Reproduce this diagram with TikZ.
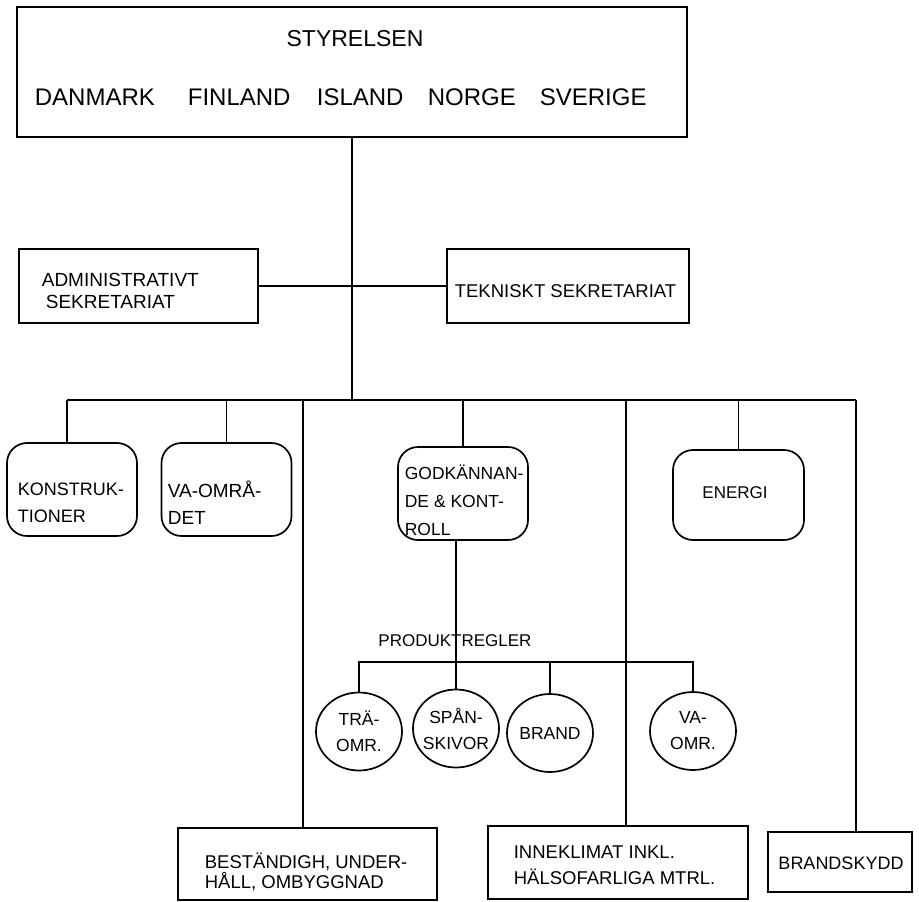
\documentclass[tikz,border=0pt]{standalone}
\usepackage{fontspec}
\setmainfont{Liberation Sans}
\usetikzlibrary{shapes.geometric}
\newcommand{\fsz}[2]{\fontsize{#1}{#2}\selectfont}
\begin{document}
\begin{tikzpicture}[x=1pt,y=-1pt,line width=1.7pt,
  sqbox/.style={draw,rectangle,inner sep=0pt},
  rndbox/.style={draw,rectangle,rounded corners=20pt,inner sep=0pt,minimum width=130pt,minimum height=93pt},
  oval/.style={draw,ellipse,inner sep=-9pt,minimum width=86pt,minimum height=78pt,align=center,font=\fsz{17.5}{26}},
  lbl/.style={inner sep=0pt,align=left,anchor=west},
]
\useasboundingbox (0,0) rectangle (919,902);

% board
\node[sqbox,minimum width=670pt,minimum height=130pt] (top) at (352,72) {};
\node[inner sep=0pt,font=\fsz{23}{23}] (styr) at (355,39) {STYRELSEN};
\node[lbl,font=\fsz{24}{24}] (dk) at (34,97) {DANMARK};
\node[lbl,font=\fsz{24}{24}] (fi) at (187,97) {FINLAND};
\node[lbl,font=\fsz{24}{24}] (is) at (316,97) {ISLAND};
\node[lbl,font=\fsz{24}{24}] (no) at (427,97) {NORGE};
\node[lbl,font=\fsz{24}{24}] (se) at (539,97) {SVERIGE};

% secretariats
\node[sqbox,minimum width=239pt,minimum height=74pt] (admin) at (138.5,286) {};
\node[lbl,font=\fsz{19}{22}] (adminT) at (41,291) {ADMINISTRATIVT\\\hspace*{4pt}SEKRETARIAT};
\node[sqbox,minimum width=242pt,minimum height=74pt] (tekn) at (568,286) {};
\node[lbl,font=\fsz{18.5}{22}] (teknT) at (454,291) {TEKNISKT SEKRETARIAT};

% trunk and main bar
\coordinate (hub) at (352,400);
\coordinate (barL) at (67,400);
\coordinate (barR) at (856,400);
\coordinate (d3) at (303,400);
\coordinate (d5) at (626,400);
\draw (top.south) -- (hub);
\draw (admin.east) -- (tekn.west);
\draw (barL) -- (barR);

% committees
\node[rndbox] (konst) at (72,489.5) {};
\node[lbl,font=\fsz{18}{27}] (konstT) at (17,502.5) {KONSTRUK-\\TIONER};
\node[rndbox] (vaomr) at (226.5,489.5) {};
\node[lbl,font=\fsz{19}{27}] (vaomrT) at (167,502.5) {VA-OMRÅ-\\DET};
\node[rndbox] (godk) at (463,493.5) {};
\node[lbl,font=\fsz{17.5}{28}] (godkT) at (404,500) {GODKÄNNAN-\\DE \& KONT-\\ROLL};
\node[rndbox,minimum width=131pt,minimum height=90pt] (energi) at (738.5,495) {};
\node[inner sep=0pt,font=\fsz{17}{17}] (energiT) at (735,493) {ENERGI};

\node[sqbox,minimum width=259pt,minimum height=72pt] (best) at (307.5,864) {};
\node[lbl,font=\fsz{18.5}{20}] (bestT) at (204,872) {BESTÄNDIGH, UNDER-\\HÅLL, OMBYGGNAD};
\node[sqbox,minimum width=260pt,minimum height=73pt] (inne) at (618,862.5) {};
\node[lbl,font=\fsz{18.5}{26}] (inneT) at (513,865) {INNEKLIMAT INKL.\\HÄLSOFARLIGA MTRL.};
\node[sqbox,minimum width=144pt,minimum height=60pt] (brandsk) at (840,862) {};
\node[inner sep=0pt,font=\fsz{18}{18}] (brandskT) at (841,863) {BRANDSKYDD};

\draw (barL) -- (barL |- konst.north);
\draw (vaomr.north) -- (vaomr.north |- hub);
\draw (d3) -- (d3 |- best.north);
\draw (godk.north) -- (godk.north |- hub);
\draw (d5) -- (d5 |- inne.north);
\draw (energi.north) -- (energi.north |- hub);
\draw (barR) -- (barR |- brandsk.north);

% product rules
\node[inner sep=0pt,font=\fsz{17}{17}] (prod) at (455,641) {PRODUKTREGLER};
\node[oval] (trae) at (359,731.5) {TRÄ-\\OMR.};
\node[oval] (spaan) at (456,728.5) {SPÅN-\\SKIVOR};
\node[oval] (brand) at (550,733) {BRAND};
\node[oval] (vaomr2) at (693,731) {VA-\\OMR.};
\coordinate (pbar) at (0,662);
\draw (spaan.north |- godk.south) -- (spaan.north);
\draw (trae.north) -- (trae.north |- pbar) -- (vaomr2.north |- pbar) -- (vaomr2.north);
\draw (brand.north) -- (brand.north |- pbar);
\end{tikzpicture}
\end{document}
